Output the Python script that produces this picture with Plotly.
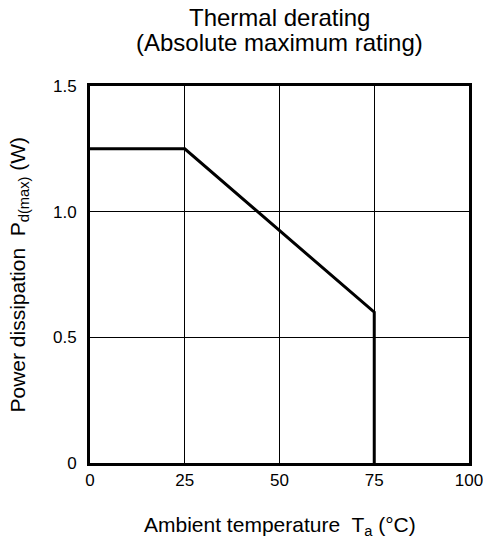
import plotly.graph_objects as go

temps = [0, 25, 75, 75]
power = [1.25, 1.25, 0.6, 0]
x_ticks = [0, 25, 50, 75, 100]
x_labels = ["0", "25", "50", "75", "100"]
y_ticks = [0, 0.5, 1.0, 1.5]
y_labels = ["0", "0.5", "1.0", "1.5"]
title_lines = ["Thermal derating", "(Absolute maximum rating)"]

FONT = "Liberation Sans, Arial, sans-serif"

fig = go.Figure()
fig.add_trace(go.Scatter(x=temps, y=power, mode="lines",
                         line=dict(color="black", width=3), showlegend=False,
                         cliponaxis=False))

fig.update_layout(
    width=483, height=540,
    margin=dict(l=90, r=14, t=86, b=77),
    paper_bgcolor="white", plot_bgcolor="white",
    font=dict(family=FONT, color="black", size=17),
    xaxis=dict(range=[0, 100], tickvals=x_ticks, ticktext=x_labels,
               showgrid=True, gridcolor="black", gridwidth=1,
               showline=True, linecolor="black", linewidth=3, mirror=True,
               zeroline=False, ticks="", ticklabelstandoff=0,
               ticklabeloverflow="allow", automargin=False,
               tickfont=dict(size=17, family=FONT)),
    yaxis=dict(range=[0, 1.5], tickvals=y_ticks, ticktext=y_labels,
               showgrid=True, gridcolor="black", gridwidth=1,
               showline=True, linecolor="black", linewidth=3, mirror=True,
               zeroline=False, ticks="", ticklabelstandoff=7,
               ticklabeloverflow="allow", automargin=False,
               tickfont=dict(size=17, family=FONT)),
    annotations=[
        dict(text=title_lines[0],
             xref="paper", yref="paper", x=0.5, y=1, xanchor="center",
             yanchor="middle", yshift=69, showarrow=False,
             font=dict(size=24, family=FONT)),
        dict(text=title_lines[1],
             xref="paper", yref="paper", x=0.5, y=1, xanchor="center",
             yanchor="middle", yshift=44, showarrow=False,
             font=dict(size=24, family=FONT)),
        dict(text="Ambient temperature  T<sub>a</sub> (°C)",
             xref="paper", yref="paper", x=0.5, y=0, xanchor="center",
             yanchor="middle", yshift=-63, showarrow=False,
             font=dict(size=21, family=FONT)),
        dict(text="Power dissipation  P<sub>d(max)</sub> (W)",
             xref="paper", yref="paper", x=0, y=0.5, xanchor="center",
             yanchor="middle", xshift=-72, textangle=-90, showarrow=False,
             font=dict(size=21, family=FONT)),
    ],
)

fig.write_html("out.html")
